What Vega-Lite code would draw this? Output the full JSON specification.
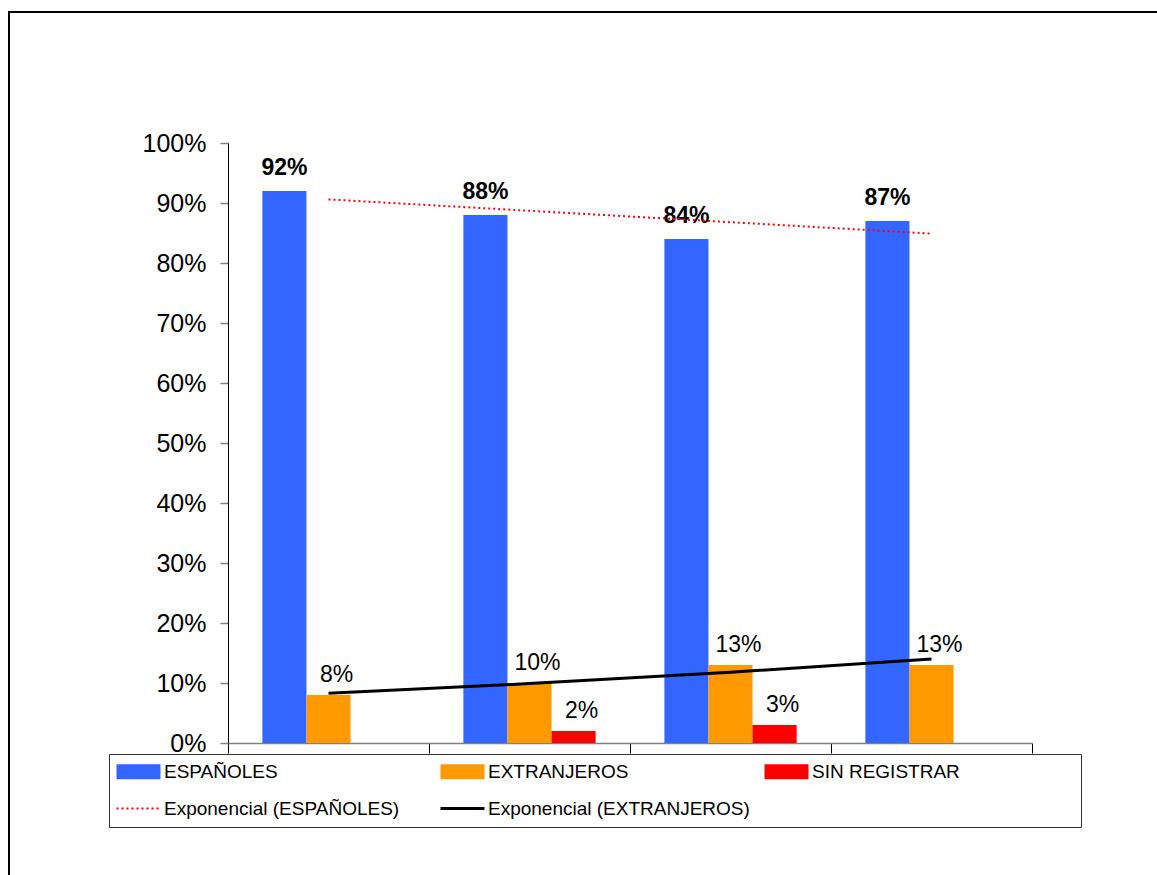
{
  "$schema": "https://vega.github.io/schema/vega-lite/v6.json",
  "autosize": "none",
  "padding": {"left": 9, "top": 12, "right": -1, "bottom": -1},
  "width": 1149,
  "height": 864,
  "background": "white",
  "config": {
    "view": {"stroke": "#000000", "strokeWidth": 2},
    "font": "Liberation Sans"
  },
  "datasets": {
    "bars": [
      {"cat": "1", "serie": "ESPAÑOLES", "value": 0.92},
      {"cat": "1", "serie": "EXTRANJEROS", "value": 0.08},
      {"cat": "2", "serie": "ESPAÑOLES", "value": 0.88},
      {"cat": "2", "serie": "EXTRANJEROS", "value": 0.10},
      {"cat": "2", "serie": "SIN REGISTRAR", "value": 0.02},
      {"cat": "3", "serie": "ESPAÑOLES", "value": 0.84},
      {"cat": "3", "serie": "EXTRANJEROS", "value": 0.13},
      {"cat": "3", "serie": "SIN REGISTRAR", "value": 0.03},
      {"cat": "4", "serie": "ESPAÑOLES", "value": 0.87},
      {"cat": "4", "serie": "EXTRANJEROS", "value": 0.13}
    ],
    "trend": [
      {"cat": "1", "serie": "Exponencial (ESPAÑOLES)", "value": 0.906},
      {"cat": "2", "serie": "Exponencial (ESPAÑOLES)", "value": 0.887},
      {"cat": "3", "serie": "Exponencial (ESPAÑOLES)", "value": 0.868},
      {"cat": "4", "serie": "Exponencial (ESPAÑOLES)", "value": 0.849},
      {"cat": "1", "serie": "Exponencial (EXTRANJEROS)", "value": 0.083},
      {"cat": "2", "serie": "Exponencial (EXTRANJEROS)", "value": 0.099},
      {"cat": "3", "serie": "Exponencial (EXTRANJEROS)", "value": 0.118},
      {"cat": "4", "serie": "Exponencial (EXTRANJEROS)", "value": 0.140}
    ]
  },
  "encoding": {
    "x": {
      "field": "cat",
      "type": "nominal",
      "scale": {"range": [219, 1023], "paddingInner": 0, "paddingOuter": 0},
      "axis": {
        "title": null,
        "labels": false,
        "domainColor": "#808080",
        "domainWidth": 1.5,
        "tickColor": "#000000",
        "tickSize": 10,
        "tickWidth": 1,
        "tickBand": "extent",
        "offset": -133,
        "grid": false
      }
    },
    "y": {
      "field": "value",
      "type": "quantitative",
      "scale": {"domain": [0, 1], "range": [731, 131], "nice": false, "zero": true},
      "axis": {
        "title": null,
        "values": [0, 0.1, 0.2, 0.3, 0.4, 0.5, 0.6, 0.7, 0.8, 0.9, 1],
        "format": ".0%",
        "labelFont": "Liberation Sans",
        "labelFontSize": 25,
        "labelColor": "#000000",
        "labelPadding": 14,
        "tickSize": 8,
        "tickColor": "#808080",
        "tickWidth": 1.5,
        "domainColor": "#000000",
        "domainWidth": 1,
        "offset": -219,
        "grid": false
      }
    }
  },
  "layer": [
    {
      "data": {"name": "bars"},
      "mark": {"type": "bar"},
      "encoding": {
        "xOffset": {
          "field": "serie",
          "type": "nominal",
          "scale": {"domain": ["ESPAÑOLES", "EXTRANJEROS", "SIN REGISTRAR"], "paddingInner": 0, "paddingOuter": 0.78}
        },
        "color": {
          "field": "serie",
          "type": "nominal",
          "scale": {
            "domain": ["ESPAÑOLES", "EXTRANJEROS", "SIN REGISTRAR", "Exponencial (ESPAÑOLES)", "Exponencial (EXTRANJEROS)"],
            "range": ["#3366FF", "#FF9900", "#FF0000", "#FF0000", "#000000"]
          },
          "legend": {
            "title": " ",
            "titleOrient": "right",
            "titlePadding": 113,
            "titleFontSize": 10,
            "orient": "none",
            "legendX": 100,
            "legendY": 742,
            "direction": "horizontal",
            "columns": 3,
            "gridAlign": "all",
            "columnPadding": 8,
            "rowPadding": 17,
            "padding": 8,
            "strokeColor": "#333333",
            "labelFont": "Liberation Sans",
            "labelFontSize": 19,
            "labelColor": "#000000",
            "labelLimit": 400,
            "labelOffset": 28,
            "symbolSize": 400,
            "symbolType": "M-1,-0.75H3.4V0.75H-1Z",
            "encode": {
              "symbols": {
                "update": {
                  "shape": {"signal": "indexof(['Exponencial (ESPAÑOLES)','Exponencial (EXTRANJEROS)'], datum.value) >= 0 ? 'M-1,0H3.4' : 'M-1,-0.75H3.4V0.75H-1Z'"},
                  "fill": {"signal": "indexof(['Exponencial (ESPAÑOLES)','Exponencial (EXTRANJEROS)'], datum.value) >= 0 ? 'transparent' : scale('color', datum.value)"},
                  "stroke": {"signal": "scale('color', datum.value)"},
                  "strokeWidth": {"signal": "datum.value == 'Exponencial (ESPAÑOLES)' ? 2 : (datum.value == 'Exponencial (EXTRANJEROS)' ? 3 : 0)"},
                  "strokeDash": {"signal": "datum.value == 'Exponencial (ESPAÑOLES)' ? [2, 3] : [1, 0]"},
                  "opacity": {"value": 1}
                }
              }
            }
          }
        }
      }
    },
    {
      "data": {"name": "bars"},
      "transform": [{"filter": "datum.serie == 'ESPAÑOLES'"}],
      "mark": {"type": "text", "baseline": "alphabetic", "align": "center", "dy": -16, "fontSize": 23, "fontWeight": "bold", "font": "Liberation Sans", "color": "#000000"},
      "encoding": {
        "xOffset": {"field": "serie", "type": "nominal"},
        "text": {"field": "value", "type": "quantitative", "format": ".0%"}
      }
    },
    {
      "data": {"name": "bars"},
      "transform": [{"filter": "datum.serie != 'ESPAÑOLES'"}],
      "mark": {"type": "text", "baseline": "alphabetic", "align": "center", "dx": 8, "dy": -13, "fontSize": 23, "font": "Liberation Sans", "color": "#000000"},
      "encoding": {
        "xOffset": {"field": "serie", "type": "nominal"},
        "text": {"field": "value", "type": "quantitative", "format": ".0%"}
      }
    },
    {
      "data": {"name": "trend"},
      "transform": [{"filter": "datum.serie == 'Exponencial (ESPAÑOLES)'"}],
      "mark": {"type": "line", "color": "#FF0000", "strokeWidth": 2, "strokeDash": [2, 3]},
      "encoding": {}
    },
    {
      "data": {"name": "trend"},
      "transform": [{"filter": "datum.serie == 'Exponencial (EXTRANJEROS)'"}],
      "mark": {"type": "line", "color": "#000000", "strokeWidth": 3},
      "encoding": {}
    }
  ]
}
